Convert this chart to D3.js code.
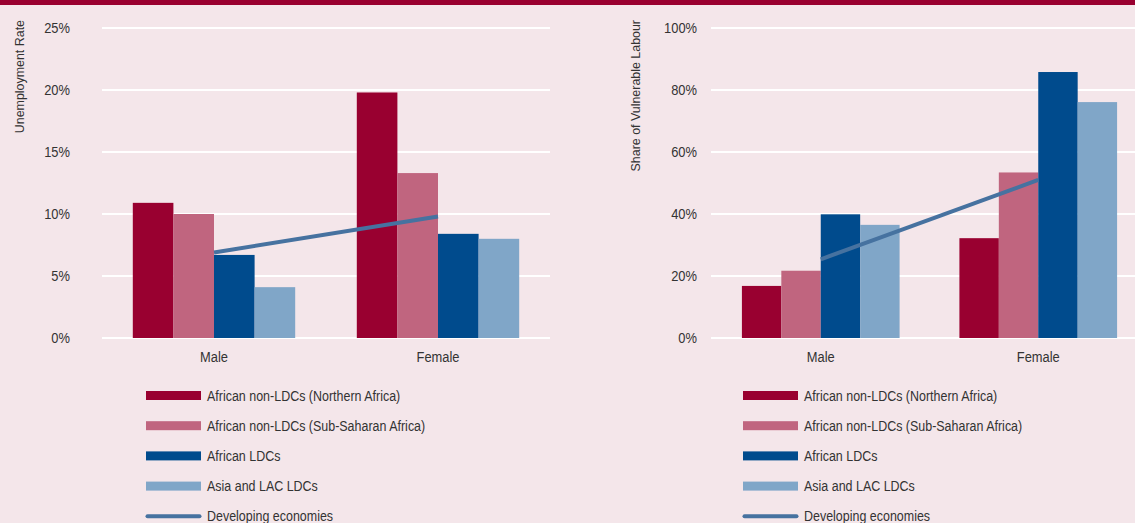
<!DOCTYPE html>
<html>
<head>
<meta charset="utf-8">
<script src="https://cdn.jsdelivr.net/npm/d3@7"></script>
<style>
  body { margin: 0; background: #f4e6ea; }
  svg { display: block; }
  text { font-family: "Liberation Sans Narrow", "Liberation Sans", Arial, sans-serif; fill: #333; }
</style>
</head>
<body>
<svg id="svgContainer"></svg>
<script>
// data
const categories = ["Male", "Female"];
const seriesNames = [
  "African non-LDCs (Northern Africa)",
  "African non-LDCs (Sub-Saharan Africa)",
  "African LDCs",
  "Asia and LAC LDCs"
];
const lineName = "Developing economies";

// unemployment rate (%), per series: [Male, Female]
const unempNorth = [10.9, 19.8];
const unempSubSah = [10.0, 13.3];
const unempAfrLdc = [6.7, 8.4];
const unempAsiaLac = [4.1, 8.0];
const unempDeveloping = [6.9, 9.8];
const unempTicks = [0, 5, 10, 15, 20, 25];

// share of vulnerable labour (%)
const vulnNorth = [16.8, 32.2];
const vulnSubSah = [21.7, 53.4];
const vulnAfrLdc = [39.9, 85.8];
const vulnAsiaLac = [36.5, 76.1];
const vulnDeveloping = [25.4, 51.0];
const vulnTicks = [0, 20, 40, 60, 80, 100];

const colors = ["#990030", "#c0657f", "#004b8d", "#80a6c8"];
const lineColor = "#4672a0";

// condensed look: squeeze the text horizontally (no narrow font installed)
const squeeze = 0.86;

// Set up the SVG container
const svgWidth = 1135;
const svgHeight = 523;
const svg = d3.select("#svgContainer")
  .attr("width", svgWidth)
  .attr("height", svgHeight);

svg.append("rect")
  .attr("width", svgWidth)
  .attr("height", svgHeight)
  .attr("fill", "#f4e6ea");

// top band
svg.append("rect")
  .attr("x", 0)
  .attr("y", 0)
  .attr("width", svgWidth)
  .attr("height", 5)
  .attr("fill", "#990030");

function drawChart(opts) {
  const g = svg.append("g");

  const x0 = d3.scaleBand()
    .domain(categories)
    .range([opts.left, opts.right])
    .paddingInner(0.275)
    .paddingOuter(0.1375);

  const x1 = d3.scaleBand()
    .domain(seriesNames)
    .range([0, x0.bandwidth()]);

  const y = d3.scaleLinear()
    .domain([0, d3.max(opts.ticks)])
    .range([338, 28]);

  // grid lines
  g.selectAll(".grid")
    .data(opts.ticks)
    .enter()
    .append("line")
    .attr("x1", opts.gridLeft)
    .attr("x2", opts.gridRight)
    .attr("y1", d => y(d))
    .attr("y2", d => y(d))
    .attr("stroke", "white")
    .attr("stroke-width", 2);

  // tick labels
  g.selectAll(".tick")
    .data(opts.ticks)
    .enter()
    .append("text")
    .attr("transform", d => `translate(${opts.labelX}, ${y(d)}) scale(${squeeze}, 1)`)
    .attr("dy", "0.35em")
    .attr("text-anchor", "end")
    .attr("font-size", 15)
    .text(d => d + "%");

  // axis title
  g.append("text")
    .attr("transform", `translate(${opts.titleX}, 20) rotate(-90) scale(0.92, 1)`)
    .attr("text-anchor", "end")
    .attr("font-size", 13.5)
    .text(opts.title);

  // bars
  const rows = categories.map((c, i) => ({
    cat: c,
    vals: opts.series.map((s, j) => ({ name: seriesNames[j], v: s[i], color: colors[j] }))
  }));

  const groups = g.selectAll(".group")
    .data(rows)
    .enter()
    .append("g")
    .attr("transform", d => `translate(${x0(d.cat)}, 0)`);

  groups.selectAll("rect")
    .data(d => d.vals)
    .enter()
    .append("rect")
    .attr("x", d => x1(d.name))
    .attr("y", d => y(d.v))
    .attr("width", x1.bandwidth())
    .attr("height", d => y(0) - y(d.v))
    .attr("fill", d => d.color);

  // category labels
  g.selectAll(".cat")
    .data(categories)
    .enter()
    .append("text")
    .attr("transform", d => `translate(${x0(d) + x0.bandwidth() / 2}, 357) scale(${squeeze}, 1)`)
    .attr("dy", "0.35em")
    .attr("text-anchor", "middle")
    .attr("font-size", 15)
    .text(d => d);

  // developing economies line
  const line = d3.line()
    .x((d, i) => x0(categories[i]) + x0.bandwidth() / 2)
    .y(d => y(d));

  g.append("path")
    .datum(opts.line)
    .attr("d", line)
    .attr("fill", "none")
    .attr("stroke", lineColor)
    .attr("stroke-width", 4);

  // legend
  const legend = g.selectAll(".legend")
    .data(seriesNames.concat([lineName]))
    .enter()
    .append("g")
    .attr("transform", (d, i) => `translate(${opts.legendX}, ${395.5 + i * 30.2})`);

  legend.filter((d, i) => i < 4)
    .append("rect")
    .attr("x", 0)
    .attr("y", -4.5)
    .attr("width", 55)
    .attr("height", 9)
    .attr("fill", (d, i) => colors[i]);

  legend.filter((d, i) => i === 4)
    .append("line")
    .attr("x1", 1.5)
    .attr("x2", 53.5)
    .attr("stroke", lineColor)
    .attr("stroke-width", 4)
    .attr("stroke-linecap", "round");

  legend.append("text")
    .attr("transform", `translate(61, 0) scale(${squeeze}, 1)`)
    .attr("dy", "0.35em")
    .attr("font-size", 14.5)
    .text(d => d);
}

drawChart({
  left: 102, right: 550, gridLeft: 102, gridRight: 550,
  labelX: 70, titleX: 24,
  title: "Unemployment Rate",
  ticks: unempTicks,
  series: [unempNorth, unempSubSah, unempAfrLdc, unempAsiaLac],
  line: unempDeveloping,
  legendX: 146
});

drawChart({
  left: 712, right: 1147, gridLeft: 711, gridRight: 1135,
  labelX: 697, titleX: 640,
  title: "Share of Vulnerable Labour",
  ticks: vulnTicks,
  series: [vulnNorth, vulnSubSah, vulnAfrLdc, vulnAsiaLac],
  line: vulnDeveloping,
  legendX: 743
});
</script>
</body>
</html>
